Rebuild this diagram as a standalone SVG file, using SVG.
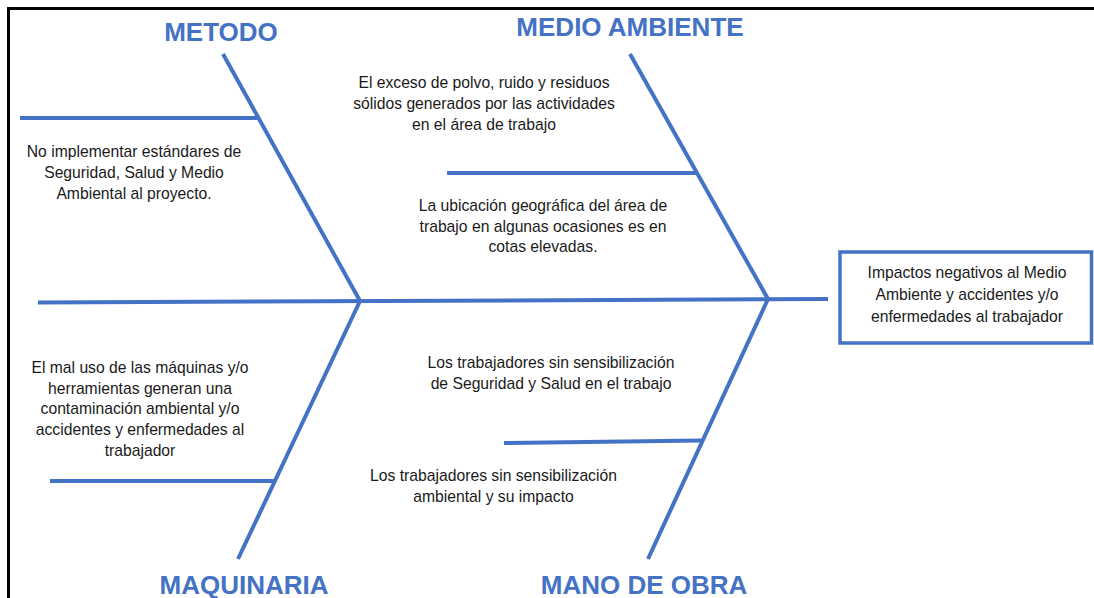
<svg xmlns="http://www.w3.org/2000/svg" width="1094" height="598" viewBox="0 0 1094 598">
<style>
.frame{fill:none;stroke:#000;stroke-width:3}
.bone{stroke:#4472C4;stroke-width:4;fill:none;stroke-linecap:butt}
.title{font-family:"Liberation Sans",Arial,sans-serif;font-weight:bold;font-size:26px;fill:#4472C4;text-anchor:middle}
.txt{font-family:"Liberation Sans",Arial,sans-serif;font-size:15.7px;fill:#1a1a1a;text-anchor:middle}
.box{fill:#fff;stroke:#4472C4;stroke-width:3.5}
</style>
<rect width="1094" height="598" fill="#fff"/>
<path class="frame" d="M8.5,598 V8.5 H1094"/>
<g id="connectors">
<line class="bone" x1="38" y1="302.5" x2="828" y2="299"/>
<line class="bone" x1="223" y1="54" x2="360" y2="301"/>
<line class="bone" x1="20" y1="118" x2="258" y2="118"/>
<line class="bone" x1="630" y1="54" x2="768" y2="299"/>
<line class="bone" x1="447" y1="173" x2="697" y2="173"/>
<line class="bone" x1="360" y1="301" x2="238" y2="559"/>
<line class="bone" x1="50" y1="481" x2="275" y2="481"/>
<line class="bone" x1="768" y1="299" x2="648" y2="559"/>
<line class="bone" x1="504" y1="443" x2="702" y2="440.5"/>
</g>
<g id="metodo">
<text class="title" x="221" y="41">METODO</text>
<text class="txt"><tspan x="134" y="157.3">No implementar estándares de</tspan><tspan x="134" y="178.3">Seguridad, Salud y Medio</tspan><tspan x="134" y="199">Ambiental al proyecto.</tspan></text>
</g>
<g id="medio-ambiente">
<text class="title" x="630" y="36">MEDIO AMBIENTE</text>
<text class="txt"><tspan x="484" y="87.5">El exceso de polvo, ruido y residuos</tspan><tspan x="484" y="108.5">sólidos generados por las actividades</tspan><tspan x="484" y="129.5">en el área de trabajo</tspan></text>
<text class="txt"><tspan x="543" y="210.5">La ubicación geográfica del área de</tspan><tspan x="543" y="231.5">trabajo en algunas ocasiones es en</tspan><tspan x="543" y="252.3">cotas elevadas.</tspan></text>
</g>
<g id="maquinaria">
<text class="title" x="244" y="594">MAQUINARIA</text>
<text class="txt"><tspan x="140" y="373">El mal uso de las máquinas y/o</tspan><tspan x="140" y="393.7">herramientas generan una</tspan><tspan x="140" y="414.4">contaminación ambiental y/o</tspan><tspan x="140" y="435.1">accidentes y enfermedades al</tspan><tspan x="140" y="455.8">trabajador</tspan></text>
</g>
<g id="mano-de-obra">
<text class="title" x="644" y="594">MANO DE OBRA</text>
<text class="txt"><tspan x="551" y="368">Los trabajadores sin sensibilización</tspan><tspan x="551" y="389">de Seguridad y Salud en el trabajo</tspan></text>
<text class="txt"><tspan x="493.5" y="480.7">Los trabajadores sin sensibilización</tspan><tspan x="493.5" y="501.7">ambiental y su impacto</tspan></text>
</g>
<g id="efecto">
<rect class="box" x="840" y="252" width="251.5" height="91"/>
<text class="txt"><tspan x="967" y="278.3">Impactos negativos al Medio</tspan><tspan x="967" y="300">Ambiente y accidentes y/o</tspan><tspan x="967" y="321.7">enfermedades al trabajador</tspan></text>
</g>
</svg>
